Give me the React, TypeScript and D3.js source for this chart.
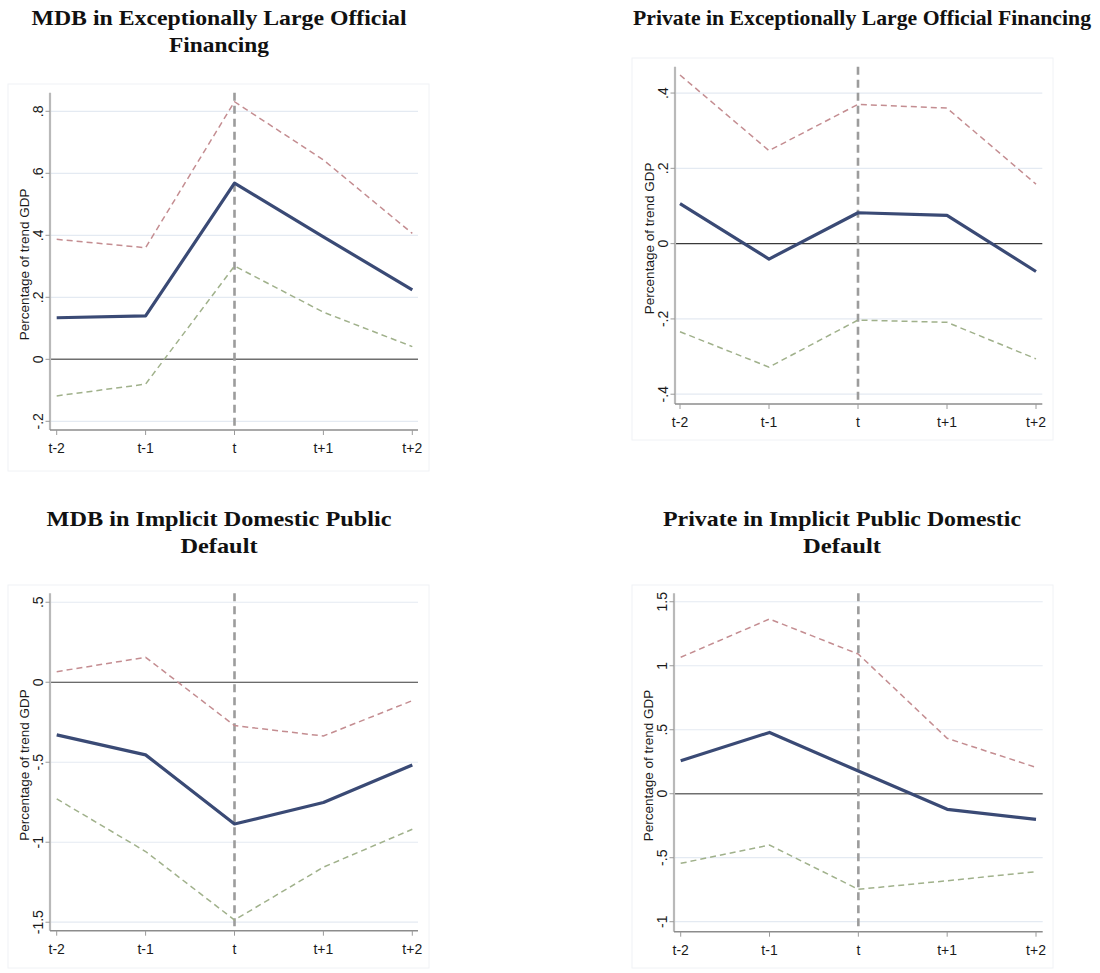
import React from "react";
import * as d3 from "d3";

const categories = ["t-2", "t-1", "t", "t+1", "t+2"];

// Panel 1: MDB in Exceptionally Large Official Financing
const mdbElofMean = [0.134, 0.14, 0.568, 0.395, 0.224];
const mdbElofUpper = [0.387, 0.36, 0.831, 0.643, 0.406];
const mdbElofLower = [-0.118, -0.08, 0.301, 0.152, 0.041];
const mdbElofTicks = [-0.2, 0, 0.2, 0.4, 0.6, 0.8];
const mdbElofTickLabels = ["-.2", "0", ".2", ".4", ".6", ".8"];

// Panel 2: Private in Exceptionally Large Official Financing
const privElofMean = [0.106, -0.041, 0.082, 0.075, -0.074];
const privElofUpper = [0.448, 0.247, 0.37, 0.36, 0.158];
const privElofLower = [-0.234, -0.328, -0.203, -0.209, -0.306];
const privElofTicks = [-0.4, -0.2, 0, 0.2, 0.4];
const privElofTickLabels = ["-.4", "-.2", "0", ".2", ".4"];

// Panel 3: MDB in Implicit Domestic Public Default
const mdbIdpdMean = [-0.329, -0.454, -0.886, -0.752, -0.517];
const mdbIdpdUpper = [0.066, 0.156, -0.271, -0.336, -0.115];
const mdbIdpdLower = [-0.729, -1.058, -1.486, -1.156, -0.919];
const mdbIdpdTicks = [-1.5, -1, -0.5, 0, 0.5];
const mdbIdpdTickLabels = ["-1.5", "-1", "-.5", "0", ".5"];

// Panel 4: Private in Implicit Public Domestic Default
const privIpddMean = [0.258, 0.479, 0.177, -0.122, -0.2];
const privIpddUpper = [1.066, 1.365, 1.091, 0.433, 0.206];
const privIpddLower = [-0.544, -0.401, -0.747, -0.68, -0.609];
const privIpddTicks = [-1, -0.5, 0, 0.5, 1, 1.5];
const privIpddTickLabels = ["-1", "-.5", "0", ".5", "1", "1.5"];

const yTitle = "Percentage of trend GDP";

const COLORS = {
  mean: "#3a4a75",
  upper: "#c48d91",
  lower: "#a0b18b",
  grid: "#e4eaf2",
  axis: "#9a9a9a",
  vline: "#9c9c9c",
  text: "#1a1a1a",
  frame: "#f0f2f5",
};

type PanelCfg = {
  title: string[];
  titleWidths: number[];
  titleX: number;
  titleY: number;
  mean: number[];
  upper: number[];
  lower: number[];
  ticks: number[];
  tickLabels: string[];
  domain: [number, number];
  axisX: number;
  gridEnd: number;
  firstX: number;
  lastX: number;
  top: number;
  bottom: number;
  frame: [number, number, number, number];
  zeroColor: string;
  zeroWidth: number;
};

const panels: PanelCfg[] = [
  {
    title: ["MDB in Exceptionally Large Official", "Financing"],
    titleWidths: [375, 100],
    titleX: 219, titleY: 25,
    mean: mdbElofMean, upper: mdbElofUpper, lower: mdbElofLower,
    ticks: mdbElofTicks, tickLabels: mdbElofTickLabels,
    domain: [-0.228, 0.86],
    axisX: 50, gridEnd: 418, firstX: 56.7, lastX: 412.3, top: 92.7, bottom: 430,
    frame: [8, 84, 429, 471], zeroColor: "#6f6f6f", zeroWidth: 1.6,
  },
  {
    title: ["Private in Exceptionally Large Official Financing"],
    titleWidths: [458],
    titleX: 862, titleY: 25,
    mean: privElofMean, upper: privElofUpper, lower: privElofLower,
    ticks: privElofTicks, tickLabels: privElofTickLabels,
    domain: [-0.426, 0.47],
    axisX: 675, gridEnd: 1042.3, firstX: 680, lastX: 1036, top: 66.7, bottom: 404,
    frame: [632, 58, 1053, 440], zeroColor: "#3a3a3a", zeroWidth: 1.1,
  },
  {
    title: ["MDB in Implicit Domestic Public", "Default"],
    titleWidths: [345, 77],
    titleX: 219, titleY: 526,
    mean: mdbIdpdMean, upper: mdbIdpdUpper, lower: mdbIdpdLower,
    ticks: mdbIdpdTicks, tickLabels: mdbIdpdTickLabels,
    domain: [-1.553, 0.556],
    axisX: 50, gridEnd: 418, firstX: 56.7, lastX: 412.3, top: 593.3, bottom: 930.7,
    frame: [8, 585, 429, 968], zeroColor: "#3a3a3a", zeroWidth: 1.1,
  },
  {
    title: ["Private in Implicit Public Domestic", "Default"],
    titleWidths: [358, 78],
    titleX: 842, titleY: 526,
    mean: privIpddMean, upper: privIpddUpper, lower: privIpddLower,
    ticks: privIpddTicks, tickLabels: privIpddTickLabels,
    domain: [-1.078, 1.566],
    axisX: 674, gridEnd: 1042.7, firstX: 680.7, lastX: 1036, top: 593.3, bottom: 931.7,
    frame: [632, 585, 1053, 968], zeroColor: "#6f6f6f", zeroWidth: 1.6,
  },
];

function Panel({ p }: { p: PanelCfg }) {
  const x = d3.scalePoint<string>().domain(categories).range([p.firstX, p.lastX]);
  const y = d3.scaleLinear().domain(p.domain).range([p.bottom, p.top]);
  const line = d3
    .line<number>()
    .x((_, i) => x(categories[i]) as number)
    .y((d) => y(d));
  const midY = (p.top + p.bottom) / 2 + 3;
  const tX = x("t") as number;
  return (
    <g>
      <rect
        x={p.frame[0]}
        y={p.frame[1]}
        width={p.frame[2] - p.frame[0]}
        height={p.frame[3] - p.frame[1]}
        fill="none"
        stroke={COLORS.frame}
        strokeWidth={1}
      />
      {p.title.map((t, i) => (
        <text
          key={i}
          x={p.titleX}
          y={p.titleY + i * 27}
          textAnchor="middle"
          fontFamily="'Liberation Serif', 'Times New Roman', serif"
          fontWeight="bold"
          fontSize={21}
          textLength={p.titleWidths[i]}
          lengthAdjust="spacingAndGlyphs"
          fill="#111"
        >
          {t}
        </text>
      ))}
      {/* grid lines */}
      {p.ticks.map((t) =>
        t === 0 ? null : (
          <line
            key={"g" + t}
            x1={p.axisX}
            x2={p.gridEnd}
            y1={y(t)}
            y2={y(t)}
            stroke={COLORS.grid}
            strokeWidth={1.2}
          />
        )
      )}
      {/* zero line */}
      <line
        x1={p.axisX}
        x2={p.gridEnd}
        y1={y(0)}
        y2={y(0)}
        stroke={p.zeroColor}
        strokeWidth={p.zeroWidth}
      />
      {/* y axis */}
      <line x1={p.axisX} x2={p.axisX} y1={p.top} y2={p.bottom} stroke="#b9b9b9" strokeWidth={2.2} />
      {p.ticks.map((t, i) => (
        <g key={"yt" + t}>
          <line x1={p.axisX - 4.5} x2={p.axisX} y1={y(t)} y2={y(t)} stroke={COLORS.axis} strokeWidth={1} />
          <text
            transform={`translate(${p.axisX - 7},${y(t)}) rotate(-90)`}
            textAnchor="middle"
            fontFamily="'Liberation Sans', Arial, sans-serif"
            fontSize={14}
            fill={COLORS.text}
          >
            {p.tickLabels[i]}
          </text>
        </g>
      ))}
      <text
        transform={`translate(${p.axisX - 21},${midY}) rotate(-90)`}
        textAnchor="middle"
        fontFamily="'Liberation Sans', Arial, sans-serif"
        fontSize={13.5}
        fill={COLORS.text}
      >
        {yTitle}
      </text>
      {/* x axis */}
      <line x1={p.axisX} x2={p.gridEnd} y1={p.bottom} y2={p.bottom} stroke="#8c8c8c" strokeWidth={1.6} />
      {categories.map((c) => (
        <g key={"xt" + c}>
          <line
            x1={x(c) as number}
            x2={x(c) as number}
            y1={p.bottom}
            y2={p.bottom + 5}
            stroke={COLORS.axis}
            strokeWidth={1}
          />
          <text
            x={x(c) as number}
            y={p.bottom + 23}
            textAnchor="middle"
            fontFamily="'Liberation Sans', Arial, sans-serif"
            fontSize={14}
            fill={COLORS.text}
          >
            {c}
          </text>
        </g>
      ))}
      {/* vertical event line */}
      <line
        x1={tX}
        x2={tX}
        y1={p.top}
        y2={p.bottom}
        stroke={COLORS.vline}
        strokeWidth={2.6}
        strokeDasharray="8,5"
      />
      {/* series */}
      <path d={line(p.upper) || ""} fill="none" stroke={COLORS.upper} strokeWidth={1.5} strokeDasharray="6,4" />
      <path d={line(p.lower) || ""} fill="none" stroke={COLORS.lower} strokeWidth={1.5} strokeDasharray="6,4" />
      <path d={line(p.mean) || ""} fill="none" stroke={COLORS.mean} strokeWidth={3.2} strokeLinejoin="round" />
    </g>
  );
}

export default function App() {
  return (
    <svg
      width={1100}
      height={973}
      style={{ position: "absolute", left: 0, top: 0, background: "#fff" }}
    >
      <rect width={1100} height={973} fill="#fff" />
      {panels.map((p, i) => (
        <Panel key={i} p={p} />
      ))}
    </svg>
  );
}
